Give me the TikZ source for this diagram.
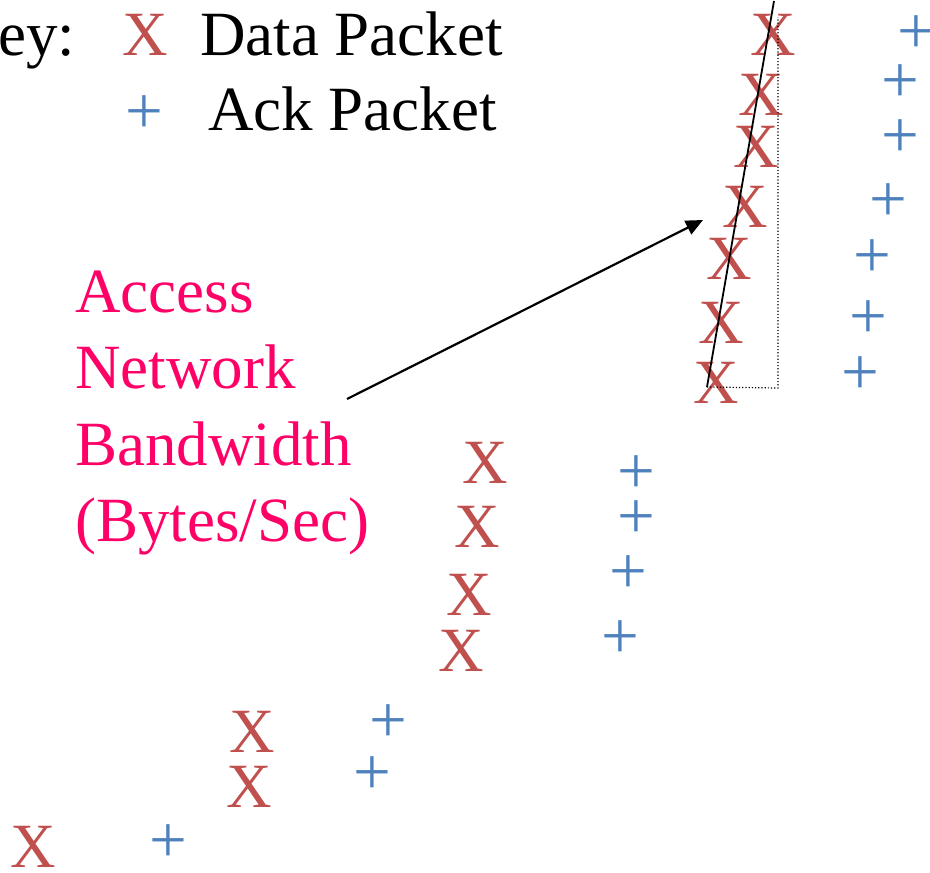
\documentclass[tikz,border=0pt]{standalone}
\usepackage{fontspec}
\setmainfont{Liberation Serif}
\usetikzlibrary{arrows.meta}
\definecolor{datared}{HTML}{C0504D}
\definecolor{ackblue}{HTML}{4F81BD}
\definecolor{labelpink}{HTML}{FF0066}
\tikzset{
  x=1pt, y=-1pt,
  txt/.style={inner sep=0pt, font=\fontsize{63}{76}\selectfont},
  datapkt/.style={txt, text=datared, anchor=base},
  ackpkt/.style={inner sep=0pt, font=\fontsize{67}{76}\selectfont, text=ackblue, anchor=center},
  keytext/.style={txt, text=black, anchor=base west},
  bwlabel/.style={txt, text=labelpink, anchor=base west},
  rateline/.style={black, line width=1.8pt},
  guide/.style={black, dotted, line width=1.2pt},
  pointer/.style={black, line width=2.2pt, -{Triangle[length=17pt,width=15pt]}},
}
\begin{document}
\begin{tikzpicture}
\useasboundingbox (0,0) rectangle (930,873);

% key
\node[keytext] (keyword) at (-2,55) {ey:};
\node[datapkt] (keyx) at (145,55) {X};
\node[keytext] (keydata) at (200,55) {Data Packet};
\node[ackpkt] (keyplus) at (144,115) {+};
\node[keytext] (keyack) at (208,130) {Ack Packet};

% label
\node[bwlabel] (l1) at (75,312) {Access};
\node[bwlabel] (l2) at (75,388) {Network};
\node[bwlabel] (l3) at (75,465) {Bandwidth};
\node[bwlabel] (l4) at (75,541) {(Bytes/Sec)};

% data packets, top column
\node[datapkt] (d1) at (773,55) {X};
\node[datapkt] (d2) at (761,115) {X};
\node[datapkt] (d3) at (756,167) {X};
\node[datapkt] (d4) at (745,227) {X};
\node[datapkt] (d5) at (729,279) {X};
\node[datapkt] (d6) at (721,343) {X};
\node[datapkt] (d7) at (716,403) {X};

% ack packets, top column
\node[ackpkt] (a1) at (916,35) {+};
\node[ackpkt] (a2) at (900,84) {+};
\node[ackpkt] (a3) at (900,139) {+};
\node[ackpkt] (a4) at (888,203) {+};
\node[ackpkt] (a5) at (872,259) {+};
\node[ackpkt] (a6) at (868,320) {+};
\node[ackpkt] (a7) at (860,376) {+};

% data packets, middle group
\node[datapkt] (m1) at (485,483) {X};
\node[datapkt] (m2) at (477,547) {X};
\node[datapkt] (m3) at (469,615) {X};
\node[datapkt] (m4) at (461,671) {X};

% ack packets, middle group
\node[ackpkt] (n1) at (636,475) {+};
\node[ackpkt] (n2) at (636,520) {+};
\node[ackpkt] (n3) at (628,575) {+};
\node[ackpkt] (n4) at (620,640) {+};

% lower groups
\node[datapkt] (b1) at (252,752) {X};
\node[datapkt] (b2) at (249,807) {X};
\node[datapkt] (b3) at (33,867) {X};
\node[ackpkt] (c1) at (388,724) {+};
\node[ackpkt] (c2) at (372,776) {+};
\node[ackpkt] (c3) at (168,844) {+};

% slope line and its dotted rise/run guides
\coordinate (slopeLow) at (707,387);
\coordinate (slopeHigh) at (774,1);
\coordinate (corner) at (778,388);
\coordinate (riseTop) at (778,17);
\draw[rateline] (slopeLow) -- (slopeHigh);
\draw[guide] (slopeLow) -- (corner) -- (riseTop);

% pointer from label to slope
\coordinate (arrowFrom) at (347,399);
\coordinate (arrowTo) at (703,220);
\draw[pointer] (arrowFrom) -- (arrowTo);
\end{tikzpicture}
\end{document}
